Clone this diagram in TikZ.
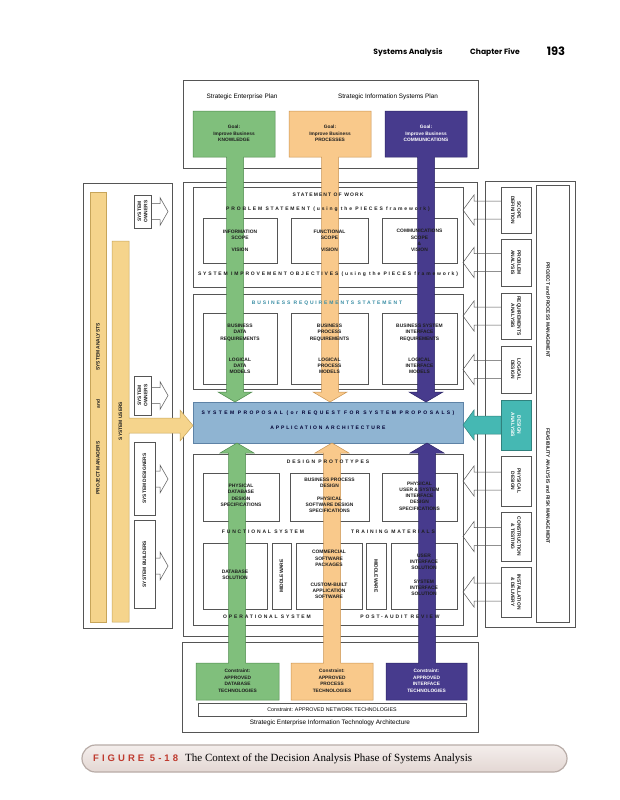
\documentclass[tikz,border=0pt]{standalone}
\usepackage{fontspec}
\setmainfont{Liberation Sans}
\newfontfamily\lsf[LetterSpace=37]{Liberation Sans}
\newfontfamily\lsfa[LetterSpace=22]{Liberation Sans}
\newfontfamily\lsfb[LetterSpace=48]{Liberation Sans}
\newfontfamily\figf[LetterSpace=32]{Liberation Sans}
\newfontfamily\hdr{Poppins}
\newfontfamily\capserif{Liberation Serif}
\definecolor{gfill}{HTML}{80BF7C}
\definecolor{gline}{HTML}{4E8A4C}
\definecolor{ofill}{HTML}{F9C98B}
\definecolor{oline}{HTML}{C99452}
\definecolor{pfill}{HTML}{473B8D}
\definecolor{pline}{HTML}{2C2566}
\definecolor{bfill}{HTML}{8FB4D2}
\definecolor{bline}{HTML}{5E83A6}
\definecolor{tfill}{HTML}{45B8B3}
\definecolor{yfill}{HTML}{F5D48C}
\definecolor{yline}{HTML}{C7A55A}
\definecolor{frame}{HTML}{555555}
\definecolor{txt}{HTML}{1E1E1E}
\definecolor{tealt}{HTML}{3A8EA5}
\definecolor{figred}{HTML}{BF3A2E}
\definecolor{captop}{HTML}{F4EEEC}
\definecolor{capbot}{HTML}{E3D7D3}
\definecolor{capline}{HTML}{B8ACA7}
\newcommand\topsign[5]{\filldraw[fill=#1,draw=#2,line width=0.5pt] (#3,111) -- (#4,111) -- (#4,157) -- ({#5+8.5},157) -- ({#5+8.5},392) -- ({#5+17},392) -- (#5,402) -- ({#5-17},392) -- ({#5-8.5},392) -- ({#5-8.5},157) -- (#3,157) -- cycle;}
\newcommand\botsign[5]{\filldraw[fill=#1,draw=#2,line width=0.5pt] (#5,443) -- ({#5+17},453) -- ({#5+8.5},453) -- ({#5+8.5},663) -- (#4,663) -- (#4,700) -- (#3,700) -- (#3,663) -- ({#5-8.5},663) -- ({#5-8.5},453) -- ({#5-17},453) -- cycle;}
\newcommand\rarrow[1]{\draw[frame,line width=0.5pt] (501,{#1-9}) -- (474,{#1-9}) -- (474,{#1-15}) -- (463,#1) -- (474,{#1+15}) -- (474,{#1+9}) -- (501,{#1+9});}
\newcommand\larrow[2]{\draw[frame,line width=0.5pt,fill=white] (#1,{#2-8}) -- (160,{#2-8}) -- (160,{#2-14}) -- (168,#2) -- (160,{#2+14}) -- (160,{#2+8}) -- (#1,{#2+8});}
\tikzset{
  frm/.style={draw=frame,line width=0.55pt},
  subbox/.style={draw=frame,line width=0.45pt,fill=white},
  bt/.style={font=\fontsize{4.9}{6.3}\selectfont\bfseries,text=txt,align=center,inner sep=0pt},
  tt/.style={font=\lsf\bfseries\fontsize{5}{5.5}\selectfont,text=txt,inner sep=0pt},
  gt/.style={font=\fontsize{4.8}{6.5}\selectfont\bfseries,text=txt,align=center,inner sep=0pt},
  pl/.style={font=\fontsize{6.4}{7}\selectfont,text=black,inner sep=0pt},
}
\begin{document}
\begin{tikzpicture}[x=1pt,y=-1pt]
\useasboundingbox (0,0) rectangle (619,800);
\fill[white] (0,0) rectangle (619,800);
% header
\node[font=\hdr\bfseries\fontsize{7.6}{9}\selectfont,inner sep=0] (h1) at (408,52) {Systems Analysis};
\node[font=\hdr\bfseries\fontsize{7.6}{9}\selectfont,inner sep=0] (h2) at (495,52) {Chapter Five};
\node[font=\hdr\bfseries\fontsize{11.5}{13}\selectfont,inner sep=0] (h3) at (556,51) {193};
% frames
\draw[frm] (183,80) rectangle (478,168);
\draw[frm] (83,183) rectangle (172,628);
\draw[frm] (183,182) rectangle (477,636);
\draw[frm] (485,181) rectangle (575,627);
\draw[frm] (536,185) rectangle (569,622);
\draw[frm] (182,642) rectangle (478,732);
% inner boxes
\draw[subbox] (193,187) rectangle (463,287);
\draw[subbox] (193,294) rectangle (463,389);
\filldraw[fill=bfill,draw=bline,line width=0.5pt] (193,402) rectangle (463,443);
\draw[subbox] (193,454) rectangle (463,625);
% sub boxes
\foreach \a/\b in {203/277,291/368,382/457}{
  \draw[subbox] (\a,218) rectangle (\b,263);
  \draw[subbox] (\a,313) rectangle (\b,384);
}
\draw[subbox] (203,473) rectangle (279,521);
\draw[subbox] (290,473) rectangle (369,521);
\draw[subbox] (382,473) rectangle (457,521);
\foreach \a/\b in {203/267,272/291,296/362,366/386,391/457}{
  \draw[subbox] (\a,543) rectangle (\b,609);
}
% right boxes and arrows
\foreach \y in {210,262.5,316,369.5,481,536.5,592}{\rarrow{\y}}
\filldraw[fill=tfill,draw=tfill!70!black,line width=0.5pt] (501,416) -- (474,416) -- (474,410) -- (463,425) -- (474,440) -- (474,434) -- (501,434) -- cycle;
\draw[subbox] (501,187) rectangle (531,233);
\draw[subbox] (501,239) rectangle (531,286);
\draw[subbox] (501,293) rectangle (531,339);
\draw[subbox] (501,346) rectangle (531,393);
\filldraw[fill=tfill,draw=tfill!70!black,line width=0.5pt] (501,400) rectangle (531,450);
\draw[subbox] (501,456) rectangle (531,506);
\draw[subbox] (501,512) rectangle (531,561);
\draw[subbox] (501,567) rectangle (531,617);
% left bars
\filldraw[fill=yfill,draw=yline,line width=0.5pt] (90,192) rectangle (106,622);
\filldraw[fill=yfill,draw=yline,line width=0.5pt] (112,241) -- (129,241) -- (129,418) -- (180,418) -- (180,410) -- (193,425.5) -- (180,441) -- (180,433) -- (129,433) -- (129,622) -- (112,622) -- cycle;
% left stakeholder boxes
\larrow{151}{211.5}
\larrow{151}{395.5}
\larrow{155}{479}
\larrow{155}{566}
\draw[subbox] (134,195) rectangle (151,228);
\draw[subbox] (134,376) rectangle (151,415);
\draw[subbox] (134,442) rectangle (155,515);
\draw[subbox] (134,520) rectangle (155,608);
% colour signs
\topsign{gfill}{gline}{193}{275}{235}
\topsign{ofill}{oline}{289}{371}{330}
\topsign{pfill}{pline}{385}{467}{426}
\botsign{gfill}{gline}{196}{279}{237}
\botsign{ofill}{oline}{291}{373}{332}
\botsign{pfill}{pline}{386}{467}{427}
\draw[subbox] (198,703) rectangle (466,716);
% top texts
\node[pl] (sep) at (242,97) {Strategic Enterprise Plan};
\node[pl] (sisp) at (388,97) {Strategic Information Systems Plan};
\node[gt] (g1) at (234,133.5) {Goal:\\Improve Business\\KNOWLEDGE};
\node[gt] (g2) at (330,133.5) {Goal:\\Improve Business\\PROCESSES};
\node[gt,text=white] (g3) at (426,133.5) {Goal:\\Improve Business\\COMMUNICATIONS};
% statement of work
\node[tt,font=\lsfa\bfseries\fontsize{5}{5.5}\selectfont] (sow) at (328,195) {STATEMENT OF WORK};
\node[tt] (ps) at (328,209) {PROBLEM STATEMENT (using the PIECES framework)};
\node[bt] (s1a) at (240,234.5) {INFORMATION\\SCOPE};
\node[bt] (s1b) at (240,250) {VISION};
\node[bt] (s2a) at (329.5,234.5) {FUNCTIONAL\\SCOPE};
\node[bt] (s2b) at (329.5,250) {VISION};
\node[bt] (s3a) at (419.5,237.5) {COMMUNICATIONS\\SCOPE\\\&};
\node[bt] (s3b) at (419.5,250) {VISION};
\node[tt] (sio) at (328,274) {SYSTEM IMPROVEMENT OBJECTIVES (using the PIECES framework)};
% business requirements
\node[tt,text=tealt] (brs) at (327,303) {BUSINESS REQUIREMENTS STATEMENT};
\node[bt] (b1a) at (240,332.5) {BUSINESS\\DATA\\REQUIREMENTS};
\node[bt] (b1b) at (240,365.7) {LOGICAL\\DATA\\MODELS};
\node[bt] (b2a) at (329.5,332.5) {BUSINESS\\PROCESS\\REQUIREMENTS};
\node[bt] (b2b) at (329.5,365.7) {LOGICAL\\PROCESS\\MODELS};
\node[bt] (b3a) at (419.5,332.5) {BUSINESS SYSTEM\\INTERFACE\\REQUIREMENTS};
\node[bt] (b3b) at (419.5,365.7) {LOGICAL\\INTERFACE\\MODELS};
% system proposal
\node[tt,font=\lsfb\bfseries\fontsize{5}{5.5}\selectfont,text=black!80!blue] (sp) at (328,413) {SYSTEM PROPOSAL\ (or\ REQUEST FOR SYSTEM PROPOSALS)};
\node[tt,text=black!80!blue] (aa) at (328,428) {APPLICATION ARCHITECTURE};
% design prototypes
\node[tt] (dp) at (328,462) {DESIGN PROTOTYPES};
\node[bt] (d1) at (241,495.3) {PHYSICAL\\DATABASE\\DESIGN\\SPECIFICATIONS};
\node[bt] (d2a) at (329.5,482.5) {BUSINESS PROCESS\\DESIGN};
\node[bt] (d2b) at (329.5,505) {PHYSICAL\\SOFTWARE DESIGN\\SPECIFICATIONS};
\node[bt] (d3) at (419.5,496) {PHYSICAL\\USER \& SYSTEM\\INTERFACE\\DESIGN\\SPECIFICATIONS};
\node[tt] (fs) at (263,532) {FUNCTIONAL SYSTEM};
\node[tt] (tm) at (393,532) {TRAINING MATERIALS};
\node[bt] (r1) at (235,575) {DATABASE\\SOLUTION};
\node[bt,rotate=90] (r2) at (281.5,576) {MIDDLEWARE};
\node[bt] (r3a) at (329,558.5) {COMMERCIAL\\SOFTWARE\\PACKAGES};
\node[bt] (r3b) at (329,591) {CUSTOM-BUILT\\APPLICATION\\SOFTWARE};
\node[bt,rotate=-90] (r4) at (376,576) {MIDDLEWARE};
\node[bt] (r5a) at (424,562) {USER\\INTERFACE\\SOLUTION};
\node[bt] (r5b) at (424,588) {SYSTEM\\INTERFACE\\SOLUTION};
\node[tt] (os) at (267,617) {OPERATIONAL SYSTEM};
\node[tt] (par) at (400,617) {POST-AUDIT REVIEW};
% bottom
\node[gt] (c1) at (237.5,680.7) {Constraint:\\APPROVED\\DATABASE\\TECHNOLOGIES};
\node[gt] (c2) at (332,680.7) {Constraint:\\APPROVED\\PROCESS\\TECHNOLOGIES};
\node[gt,text=white] (c3) at (426.5,680.7) {Constraint:\\APPROVED\\INTERFACE\\TECHNOLOGIES};
\node[font=\fontsize{5.3}{6}\selectfont,inner sep=0] (net) at (332,709.5) {Constraint: APPROVED NETWORK TECHNOLOGIES};
\node[pl] (seita) at (330,723) {Strategic Enterprise Information Technology Architecture};
% right texts
\node[bt,rotate=-90] (rt1) at (516,210) {SCOPE\\DEFINITION};
\node[bt,rotate=-90] (rt2) at (516,262.5) {PROBLEM\\ANALYSIS};
\node[bt,rotate=-90] (rt3) at (516,316) {REQUIREMENTS\\ANALYSIS};
\node[bt,rotate=-90] (rt4) at (516,369.5) {LOGICAL\\DESIGN};
\node[bt,rotate=-90,text=white] (rt5) at (516,425) {DESIGN\\ANALYSIS};
\node[bt,rotate=-90] (rt6) at (516,481) {PHYSICAL\\DESIGN};
\node[bt,rotate=-90] (rt7) at (516,536.5) {CONSTRUCTION\\\& TESTING};
\node[bt,rotate=-90] (rt8) at (516,592) {INSTALLATION\\\& DELIVERY};
\node[bt,rotate=-90] (ppm) at (548,310) {PROJECT and PROCESS MANAGEMENT};
\node[bt,rotate=-90] (fra) at (548,486) {FEASIBILITY ANALYSIS and RISK MANAGEMENT};
% left texts
\node[bt,rotate=90] (sa) at (98,347) {SYSTEM ANALYSTS};
\node[bt,rotate=90] (and) at (98,404) {and};
\node[bt,rotate=90] (pm) at (98,468) {PROJECT MANAGERS};
\node[bt,rotate=90] (su) at (120.5,421) {SYSTEM USERS};
\node[bt,rotate=90] (so1) at (142.5,211.5) {SYSTEM\\OWNERS};
\node[bt,rotate=90] (so2) at (142.5,395.5) {SYSTEM\\OWNERS};
\node[bt,rotate=90] (sd) at (144.5,478.5) {SYSTEM DESIGNERS};
\node[bt,rotate=90] (sb) at (144.5,564) {SYSTEM BUILDERS};
% caption
\shade[top color=captop,bottom color=capbot,draw=capline,line width=1.2pt,rounded corners=13.5pt] (82,745) rectangle (567,772);
\node[font=\figf\bfseries\fontsize{9.5}{10}\selectfont,text=figred,anchor=west,inner sep=0] (fig) at (93,758) {FIGURE\ 5-18};
\node[font=\capserif\fontsize{11}{12}\selectfont,anchor=west,inner sep=0] (cap) at (185,758.5) {The Context of the Decision Analysis Phase of Systems Analysis};
\end{tikzpicture}
\end{document}
